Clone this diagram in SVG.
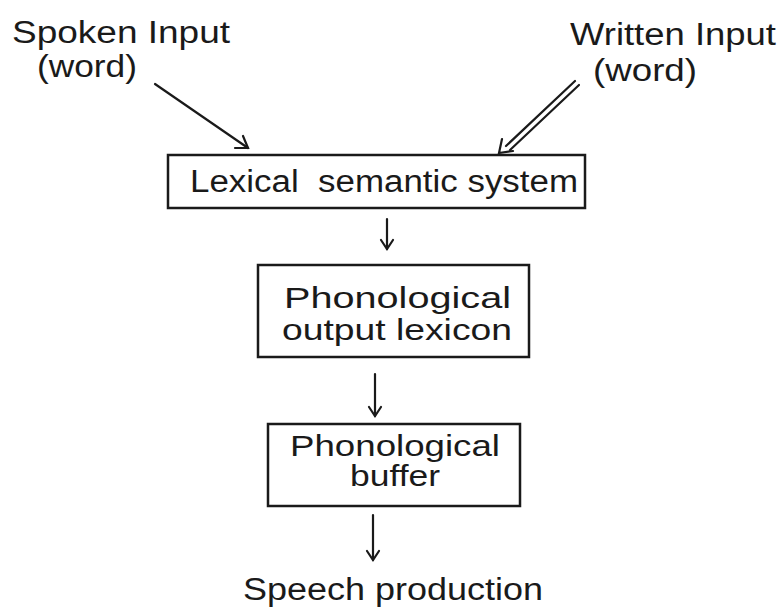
<svg xmlns="http://www.w3.org/2000/svg" width="784" height="610" viewBox="0 0 784 610">
<defs>
<style>
text{font-family:"Liberation Sans",Arial,sans-serif;font-size:31px;fill:#1a1a1a;white-space:pre}
.two{font-size:30px}
.box{fill:#fff;stroke:#1a1a1a;stroke-width:2.5}
.ln{stroke:#1a1a1a;stroke-width:2.2;fill:none;stroke-linecap:round}
</style>
</defs>
<rect width="784" height="610" fill="#fff"/>
<g id="spoken">
<text x="12" y="43" textLength="218" lengthAdjust="spacingAndGlyphs">Spoken Input</text>
<text x="37" y="77" textLength="100" lengthAdjust="spacingAndGlyphs">(word)</text>
</g>
<g id="written">
<text x="570" y="45" textLength="206" lengthAdjust="spacingAndGlyphs">Written Input</text>
<text x="593" y="81" textLength="104" lengthAdjust="spacingAndGlyphs">(word)</text>
</g>
<g id="lexical">
<rect class="box" x="168" y="155" width="417" height="53"/>
<text x="190" y="192" textLength="388" lengthAdjust="spacingAndGlyphs" xml:space="preserve">Lexical  semantic system</text>
</g>
<g id="pol">
<rect class="box" x="258" y="265" width="271" height="92"/>
<text class="two" x="284" y="308" textLength="227" lengthAdjust="spacingAndGlyphs">Phonological</text>
<text class="two" x="282" y="340" textLength="230" lengthAdjust="spacingAndGlyphs">output lexicon</text>
</g>
<g id="buffer">
<rect class="box" x="268" y="424" width="252" height="82"/>
<text class="two" x="290" y="456" textLength="210" lengthAdjust="spacingAndGlyphs">Phonological</text>
<text class="two" x="350" y="486" textLength="90" lengthAdjust="spacingAndGlyphs">buffer</text>
</g>
<g id="speech">
<text x="243" y="600" textLength="300" lengthAdjust="spacingAndGlyphs">Speech production</text>
</g>
<g id="connectors">
<line class="ln" x1="155" y1="84" x2="248" y2="148"/>
<polyline class="ln" points="235,148 248,148 243,136"/>
<line class="ln" x1="575" y1="81" x2="506" y2="146" stroke-width="1.6"/>
<line class="ln" x1="579" y1="85" x2="510" y2="150" stroke-width="1.6"/>
<polyline class="ln" points="502,139 499,153 513,151"/>
<line class="ln" x1="387" y1="219" x2="387" y2="249"/>
<polyline class="ln" points="381,240 387,249 393,240"/>
<line class="ln" x1="375" y1="374" x2="375" y2="416"/>
<polyline class="ln" points="369,407 375,416 381,407"/>
<line class="ln" x1="373" y1="515" x2="373" y2="560"/>
<polyline class="ln" points="367,551 373,560 379,551"/>
</g>
</svg>
